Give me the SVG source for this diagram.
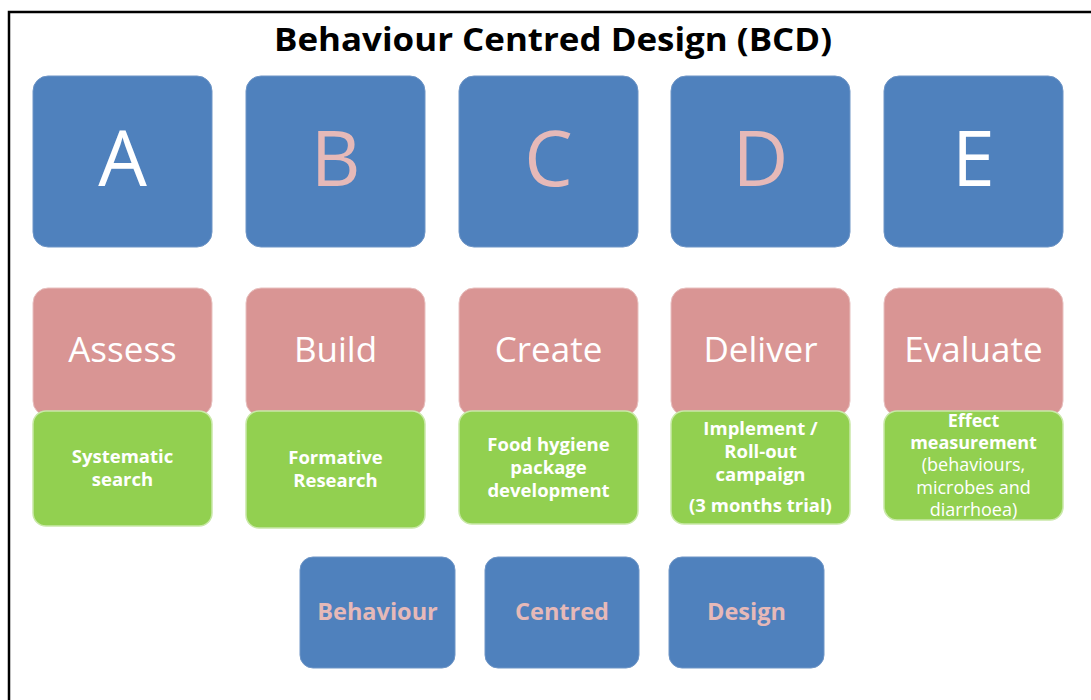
<svg xmlns="http://www.w3.org/2000/svg" width="1091" height="700" viewBox="0 0 1091 700">
<style>
.blue{fill:#4F81BD;stroke:#6E95C6;stroke-width:1}
.pink{fill:#D99594;stroke:#E8C0BF;stroke-width:1}
.green{fill:#92D050;stroke:#C9E8A8;stroke-width:1.5}
.big{font-family:"Open Sans","DejaVu Sans",sans-serif;font-size:77px;text-anchor:middle}
.mid{font-family:"Open Sans","DejaVu Sans",sans-serif;font-size:35px;fill:#FFFFFF;text-anchor:middle}
.sm{font-family:"Open Sans","DejaVu Sans",sans-serif;font-size:18.5px;font-weight:bold;fill:#FFFFFF;text-anchor:middle}
.sme{font-family:"Open Sans","DejaVu Sans",sans-serif;font-size:18px;font-weight:bold;fill:#FFFFFF;text-anchor:middle}
.smr{font-family:"Open Sans","DejaVu Sans",sans-serif;font-size:18px;fill:#FFFFFF;text-anchor:middle}
.bot{font-family:"Open Sans","DejaVu Sans",sans-serif;font-size:23.5px;font-weight:bold;fill:#E6B9B8;text-anchor:middle}
.w{fill:#FFFFFF}
.p{fill:#E6B9B8}
</style>
<rect x="0" y="0" width="1091" height="700" fill="#FFFFFF"/>
<rect x="9" y="12" width="1100" height="700" fill="none" stroke="#000000" stroke-width="2.5"/>
<text x="553" y="51" font-family="Open Sans, DejaVu Sans, sans-serif" font-size="32" font-weight="bold" text-anchor="middle" textLength="558" lengthAdjust="spacingAndGlyphs" fill="#000000">Behaviour Centred Design (BCD)</text>

<g id="nodeA">
<rect class="blue" x="33" y="76" width="179" height="171" rx="15"/>
<text class="big w" x="122.5" y="186">A</text>
</g>
<g id="nodeB">
<rect class="blue" x="246" y="76" width="179" height="171" rx="15"/>
<text class="big p" x="335.5" y="186">B</text>
</g>
<g id="nodeC">
<rect class="blue" x="459" y="76" width="179" height="171" rx="15"/>
<text class="big p" x="548.5" y="186">C</text>
</g>
<g id="nodeD">
<rect class="blue" x="671" y="76" width="179" height="171" rx="15"/>
<text class="big p" x="760.5" y="186">D</text>
</g>
<g id="nodeE">
<rect class="blue" x="884" y="76" width="179" height="171" rx="15"/>
<text class="big w" x="973.5" y="186">E</text>
</g>

<g id="assess">
<rect class="pink" x="33" y="288" width="179" height="128" rx="15"/>
<text class="mid" x="122.5" y="362">Assess</text>
</g>
<g id="build">
<rect class="pink" x="246" y="288" width="179" height="128" rx="15"/>
<text class="mid" x="335.5" y="362">Build</text>
</g>
<g id="create">
<rect class="pink" x="459" y="288" width="179" height="128" rx="15"/>
<text class="mid" x="548.5" y="362">Create</text>
</g>
<g id="deliver">
<rect class="pink" x="671" y="288" width="179" height="128" rx="15"/>
<text class="mid" x="760.5" y="362">Deliver</text>
</g>
<g id="evaluate">
<rect class="pink" x="884" y="288" width="179" height="128" rx="15"/>
<text class="mid" x="973.5" y="362">Evaluate</text>
</g>

<g id="systematic">
<rect class="green" x="33" y="411" width="179" height="115" rx="13"/>
<text class="sm" x="122.5" y="463">Systematic</text>
<text class="sm" x="122.5" y="486">search</text>
</g>
<g id="formative">
<rect class="green" x="246" y="411" width="179" height="117" rx="13"/>
<text class="sm" x="335.5" y="464">Formative</text>
<text class="sm" x="335.5" y="487">Research</text>
</g>
<g id="food">
<rect class="green" x="459" y="411" width="179" height="113" rx="13"/>
<text class="sm" x="548.5" y="451">Food hygiene</text>
<text class="sm" x="548.5" y="474">package</text>
<text class="sm" x="548.5" y="497">development</text>
</g>
<g id="implement">
<rect class="green" x="671" y="411" width="179" height="113" rx="13"/>
<text class="sm" x="760.5" y="435">Implement /</text>
<text class="sm" x="760.5" y="458">Roll-out</text>
<text class="sm" x="760.5" y="481">campaign</text>
<text class="sm" x="760.5" y="512">(3 months trial)</text>
</g>
<g id="effect">
<rect class="green" x="884" y="411" width="179" height="109" rx="13"/>
<text class="sme" x="973.5" y="427">Effect</text>
<text class="sme" x="973.5" y="449">measurement</text>
<text class="smr" x="973.5" y="471">(behaviours,</text>
<text class="smr" x="973.5" y="494">microbes and</text>
<text class="smr" x="973.5" y="516">diarrhoea)</text>
</g>

<g id="behaviour">
<rect class="blue" x="300" y="557" width="155" height="111" rx="13"/>
<text class="bot" x="377.5" y="620">Behaviour</text>
</g>
<g id="centred">
<rect class="blue" x="485" y="557" width="154" height="111" rx="13"/>
<text class="bot" x="562" y="620">Centred</text>
</g>
<g id="design">
<rect class="blue" x="669" y="557" width="155" height="111" rx="13"/>
<text class="bot" x="746.5" y="620">Design</text>
</g>

<g id="connectors"></g>
</svg>
